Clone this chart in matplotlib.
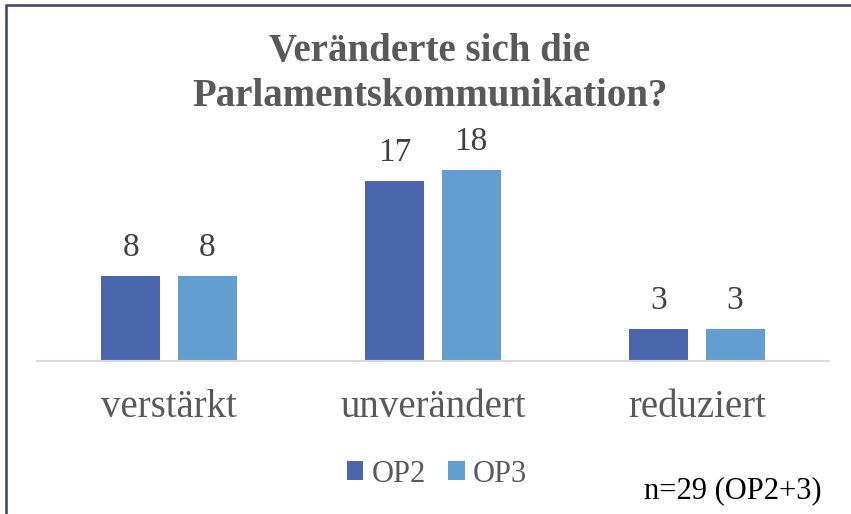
import matplotlib
matplotlib.use("Agg")
import matplotlib.pyplot as plt
from matplotlib.patches import Rectangle
import numpy as np

categories = ["verstärkt", "unverändert", "reduziert"]
op2 = [8, 17, 3]
op3 = [8, 18, 3]
series_names = ["OP2", "OP3"]

plt.rcParams["font.family"] = ["Liberation Serif", "DejaVu Serif"]

W, H = 851, 514
fig = plt.figure(figsize=(W / 100, H / 100), dpi=100)

# chart frame
fig.patches.append(Rectangle((6 / W, -0.01), 1.0, (H - 5) / H + 0.01, transform=fig.transFigure,
                             fill=False, edgecolor="#3c4070", linewidth=1.8))

ax = fig.add_axes([37 / W, (H - 361) / H, 792 / W, 212 / H])
x = np.arange(len(categories))
w = 0.2235
off = 0.144
b1 = ax.bar(x - off, op2, w, color="#4a66ac", label=series_names[0])
b2 = ax.bar(x + off, op3, w, color="#629fd0", label=series_names[1])

for bars in (b1, b2):
    for r in bars:
        ax.text(r.get_x() + r.get_width() / 2, r.get_height() + 1.25, str(int(r.get_height())),
                ha="center", va="bottom", fontsize=24, color="#404040")

ax.set_xlim(-0.5, 2.5)
ax.set_ylim(0, 20)
ax.set_yticks([])
for s in ["top", "left", "right"]:
    ax.spines[s].set_visible(False)
ax.spines["bottom"].set_color("#d9d9d9")
ax.spines["bottom"].set_linewidth(1.5)
ax.set_xticks(x)
ax.set_xticklabels(categories, fontsize=28, color="#595959")
ax.tick_params(axis="x", length=0, pad=20)

fig.text(430 / W, 1 - 52 / H, "Veränderte sich die", ha="center", va="center",
         fontsize=28, fontweight="bold", color="#595959")
fig.text(430 / W, 1 - 96 / H, "Parlamentskommunikation?", ha="center", va="center",
         fontsize=28, fontweight="bold", color="#595959")

fig.legend(handles=[b1, b2], loc="center", bbox_to_anchor=(437 / W, 1 - 474 / H), ncol=2,
           frameon=False, fontsize=22, handlelength=0.55, handleheight=0.55, handletextpad=0.26,
           columnspacing=0.75, labelcolor="#595959")

fig.text(733 / W, 1 - 491 / H, "n=29 (OP2+3)", ha="center", va="center", fontsize=22, color="black")

fig.savefig("out.png", dpi=100)
